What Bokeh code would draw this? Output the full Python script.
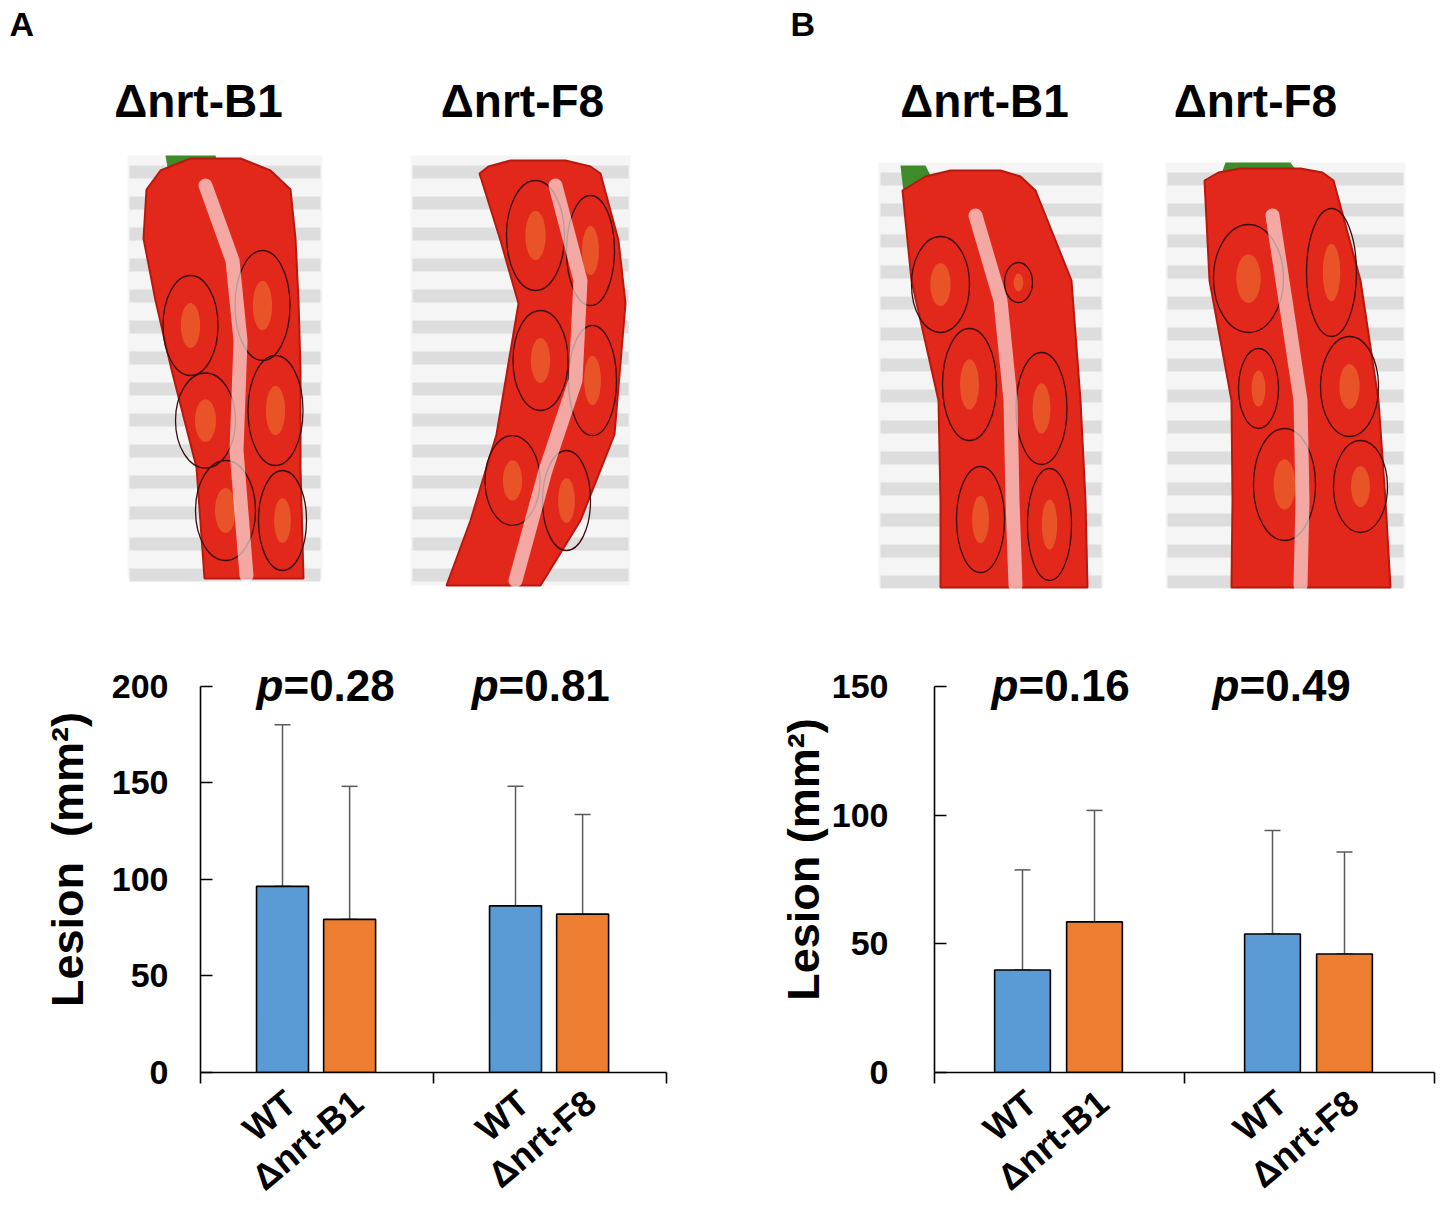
import numpy as np
from bokeh.plotting import figure
from bokeh.models import (Range1d, FixedTicker, LinearAxis, CustomJSTickFormatter,
                          Whisker, TeeHead, Label, ColumnDataSource)
from bokeh.layouts import row, column
from bokeh.embed import file_html
from bokeh.resources import INLINE
from bokeh.core.properties import value

FONT = "Liberation Sans"

# ---------------- data ----------------
strain_titles = ["\u0394nrt-B1", "\u0394nrt-F8", "\u0394nrt-B1", "\u0394nrt-F8"]
panel_letters = ["A", "B"]
tick_labels = ["WT", "\u0394nrt-B1", "WT", "\u0394nrt-F8"]
y_ticks_a = [0, 50, 100, 150, 200]
y_ticks_b = [0, 50, 100, 150]

wt_mean_a = [96.4, 86.3]
mut_mean_a = [79.3, 82.0]
wt_upper_a = [180.1, 148.2]
mut_upper_a = [148.2, 133.6]
p_a = ["0.28", "0.81"]

wt_mean_b = [39.8, 53.8]
mut_mean_b = [58.5, 46.0]
wt_upper_b = [78.7, 94.0]
mut_upper_b = [101.8, 85.6]
p_b = ["0.16", "0.49"]

# ---------------- style / layout ----------------
BLUE = "#5B9BD5"
ORANGE = "#ED7D31"
ERR = "#5a5a5a"
WT_OFF, MUT_OFF, BAR_W = 0.352, 0.64, 0.223
LABEL_SHIFT = 0.035
HEADROOM = 428.0 / 388.0   # extra room above the top tick for the p-value texts


def chart(wt, mut, wt_up, mut_up, pv, p_x, p_y, yticks, ymax, width,
          mbl, mbr, tick_standoff, label_standoff, ylabel):
    p = figure(width=width, height=586, x_range=Range1d(0, 2),
               y_range=Range1d(0, ymax * HEADROOM),
               output_backend="svg", toolbar_location=None,
               min_border_left=mbl, min_border_right=mbr,
               min_border_top=16, min_border_bottom=142)
    p.grid.visible = False
    p.outline_line_color = None
    xs = [g + WT_OFF for g in range(2)] + [g + MUT_OFF for g in range(2)]
    src = ColumnDataSource(dict(x=xs, top=list(wt) + list(mut),
                                upper=list(wt_up) + list(mut_up),
                                color=[BLUE, BLUE, ORANGE, ORANGE]))
    p.vbar(x="x", top="top", bottom=0, width=BAR_W, fill_color="color",
           line_color="black", line_width=1.6, source=src)
    p.add_layout(Whisker(base="x", lower="top", upper="upper", source=src,
                         line_color=ERR, line_width=1.5,
                         upper_head=TeeHead(size=16, line_color=ERR, line_width=1.5),
                         lower_head=TeeHead(size=16, line_color=ERR, line_width=1.5)))

    xa = p.xaxis[0]
    xa.ticker = FixedTicker(ticks=[0, 1, 2])
    xa.major_tick_out = 11
    xa.major_tick_in = 0
    xa.minor_tick_line_color = None
    xa.axis_line_width = 1.6
    xa.major_tick_line_width = 1.6
    xa.major_label_text_font_size = "1px"
    xa.major_label_text_color = None
    xa.major_label_standoff = 0

    lab = LinearAxis(ticker=FixedTicker(ticks=[x + LABEL_SHIFT for x in sorted(xs)]),
                     formatter=CustomJSTickFormatter(args=dict(labels=tick_labels),
                                                     code="return labels[index];"))
    lab.axis_line_color = None
    lab.major_tick_line_color = None
    lab.minor_tick_line_color = None
    lab.major_label_orientation = 0.70
    lab.major_label_text_font = FONT
    lab.major_label_text_font_size = "36px"
    lab.major_label_text_font_style = "bold"
    lab.major_label_text_color = "black"
    lab.major_label_standoff = 8
    p.add_layout(lab, "below")

    ya = p.yaxis[0]
    ya.ticker = FixedTicker(ticks=yticks)
    ya.bounds = (0, ymax)
    ya.major_tick_in = 12
    ya.major_tick_out = 0
    ya.minor_tick_line_color = None
    ya.axis_line_width = 1.6
    ya.major_tick_line_width = 1.6
    ya.major_label_standoff = tick_standoff
    ya.major_label_text_font = FONT
    ya.major_label_text_font_size = "34px"
    ya.major_label_text_font_style = "bold"
    ya.major_label_text_color = "black"
    ya.axis_label = ylabel
    ya.axis_label_text_font = FONT
    ya.axis_label_text_font_size = "45px"
    ya.axis_label_text_font_style = "bold"
    ya.axis_label_text_color = "black"
    ya.axis_label_standoff = label_standoff

    for i in range(2):
        p.add_layout(Label(x=p_x[i], y=p_y, text="p", text_align="right",
                           text_baseline="middle", text_font=FONT,
                           text_font_size="44px", text_font_style="bold italic",
                           text_color="black"))
        p.add_layout(Label(x=p_x[i], y=p_y, text="=" + pv[i], text_align="left",
                           text_baseline="middle", text_font=FONT,
                           text_font_size="44px", text_font_style="bold",
                           text_color="black"))
    return p


# ---------------- photo sketches (decoration, page pixel coords) ----------------
photos = [(127, 322, 155, 578), (410, 630, 155, 585),
          (878, 1103, 162, 587), (1165, 1405, 162, 587)]

peppers = [
    dict(y=[158, 170, 189, 238, 300, 369, 467, 578],
         l=[190, 160, 146, 143, 155, 171, 196, 204],
         r=[240, 270, 290, 295, 298, 300, 300, 303]),
    dict(y=[160, 166, 173, 240, 303, 434, 520, 585],
         l=[510, 488, 479, 500, 518, 496, 470, 446],
         r=[565, 590, 600, 618, 625, 614, 580, 540]),
    dict(y=[170, 176, 190, 280, 400, 500, 587],
         l=[950, 925, 902, 911, 938, 940, 940],
         r=[1000, 1020, 1035, 1071, 1080, 1085, 1087]),
    dict(y=[168, 172, 180, 280, 400, 500, 587],
         l=[1240, 1218, 1204, 1209, 1231, 1232, 1231],
         r=[1300, 1322, 1333, 1360, 1378, 1385, 1390]),
]
stems = [dict(x=[165, 215, 220, 170], y=[155, 155, 172, 185]),
         dict(x=[900, 925, 935, 905], y=[165, 165, 185, 210]),
         dict(x=[1225, 1290, 1300, 1220], y=[162, 162, 176, 176])]
lesions = dict(x=[190, 262, 205, 275, 225, 282, 535, 590, 540, 592, 512, 566,
                  940, 1018, 969, 1041, 980, 1049, 1248, 1331, 1258, 1349, 1284, 1360],
               y=[325, 305, 420, 410, 510, 520, 235, 250, 360, 380, 480, 500,
                  284, 282, 384, 408, 519, 524, 278, 272, 388, 386, 484, 486],
               w=[55, 55, 60, 55, 60, 48, 58, 48, 55, 48, 55, 48,
                  58, 28, 54, 51, 48, 44, 70, 50, 40, 58, 62, 54],
               h=[100, 110, 95, 110, 100, 100, 110, 110, 100, 110, 90, 100,
                  96, 40, 112, 112, 106, 112, 108, 128, 80, 100, 112, 92])
glare = [dict(x=[205, 232, 240, 236, 246], y=[185, 260, 340, 450, 575]),
         dict(x=[555, 580, 575, 545, 515], y=[185, 280, 380, 470, 580]),
         dict(x=[975, 1000, 1010, 1012, 1015], y=[215, 300, 400, 500, 585]),
         dict(x=[1272, 1285, 1300, 1302, 1300], y=[215, 300, 400, 500, 585])]


def top():
    p = figure(width=1442, height=630, x_range=Range1d(0, 1442), y_range=Range1d(630, 0),
               output_backend="svg", toolbar_location=None, min_border=0,
               x_axis_location=None, y_axis_location=None)
    p.grid.visible = False
    p.outline_line_color = None
    for (l, r, t, b) in photos:
        p.quad(left=[l], right=[r], top=[t], bottom=[b], fill_color="#f5f5f5", line_color=None)
        ys = np.arange(t + 10, b - 8, 31)
        p.quad(left=l + 2, right=r - 2, top=ys, bottom=ys + 13,
               fill_color="#dadada", line_color=None, fill_alpha=0.9)
    for st in stems:
        p.patch(st["x"], st["y"], fill_color="#3f8a2a", line_color=None)
    for pp in peppers:
        xs = pp["l"] + pp["r"][::-1]
        ys = pp["y"] + pp["y"][::-1]
        p.patch(xs, ys, fill_color="#e2271b", line_color="#b8180f", line_width=2)
    p.ellipse(x=lesions["x"], y=lesions["y"], width=[w * 0.35 for w in lesions["w"]],
              height=[h * 0.45 for h in lesions["h"]], fill_color="#f08a3a",
              fill_alpha=0.45, line_color=None)
    p.ellipse(x=lesions["x"], y=lesions["y"], width=lesions["w"], height=lesions["h"],
              fill_color=None, line_color="#3a0d0a", line_width=1.3)
    for g in glare:
        p.line(g["x"], g["y"], line_color="white", line_alpha=0.6, line_width=14,
               line_cap="round", line_join="round")
    p.text(x=[9, 790], y=[23, 23], text=panel_letters, text_font=value(FONT),
           text_font_size="34px", text_font_style="bold", text_baseline="middle",
           text_color="black")
    p.text(x=[198, 522, 984, 1255], y=[100, 100, 100, 100], text=strain_titles,
           text_font=value(FONT), text_font_size="46px", text_font_style="bold",
           text_align="center", text_baseline="middle", text_color="black")
    return p


top_fig = top()
chart_a = chart(wt_mean_a, mut_mean_a, wt_upper_a, mut_upper_a, p_a, [0.356, 1.279], 200.5,
                y_ticks_a, 200, 733, 200, 67, 32, 16, "Lesion\u00a0 (mm\u00b2)")
chart_b = chart(wt_mean_b, mut_mean_b, wt_upper_b, mut_upper_b, p_b, [0.336, 1.22], 150.4,
                y_ticks_b, 150, 709, 201, 8, 46, 0, "Lesion (mm\u00b2)")

layout = column(top_fig, row(chart_a, chart_b))
open("out.html", "w").write(file_html(layout, INLINE))
